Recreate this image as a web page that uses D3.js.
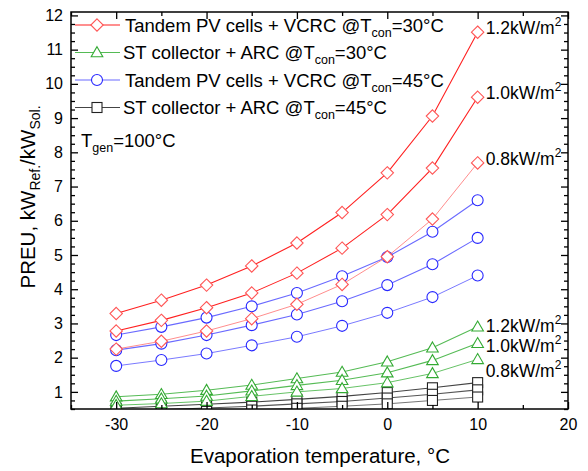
<!DOCTYPE html>
<html>
<head>
<meta charset="utf-8">
<script src="https://cdn.jsdelivr.net/npm/d3@7"></script>
<style>
  body { margin: 0; background: #fff; }
  text { font-family: "Liberation Sans", Arial, sans-serif; }
</style>
</head>
<body>
<div id="chart"></div>
<script>
// evaporation temperatures (x)
const evapTemps = [-30, -25, -20, -15, -10, -5, 0, 5, 10];
const irradiance = ["1.2", "1.0", "0.8"];

// Tandem PV cells + VCRC @ Tcon = 30 C  (1.2, 1.0, 0.8 kW/m2)
const pvVcrc30 = [
  [3.29, 3.68, 4.12, 4.68, 5.35, 6.24, 7.40, 9.06, 11.51],
  [2.78, 3.09, 3.46, 3.89, 4.47, 5.20, 6.18, 7.54, 9.61],
  [2.25, 2.48, 2.78, 3.14, 3.56, 4.14, 4.95, 6.05, 7.69]
];
// ST collector + ARC @ Tcon = 30 C
const stArc30 = [
  [0.86, 0.93, 1.05, 1.20, 1.39, 1.58, 1.88, 2.29, 2.90],
  [0.73, 0.80, 0.88, 1.03, 1.19, 1.34, 1.56, 1.92, 2.42],
  [0.61, 0.66, 0.73, 0.87, 1.00, 1.10, 1.27, 1.54, 1.95]
];
// Tandem PV cells + VCRC @ Tcon = 45 C
const pvVcrc45 = [
  [2.66, 2.90, 3.17, 3.50, 3.89, 4.38, 4.94, 5.68, 6.60],
  [2.22, 2.41, 2.66, 2.95, 3.26, 3.65, 4.12, 4.73, 5.50],
  [1.76, 1.93, 2.12, 2.36, 2.61, 2.93, 3.31, 3.77, 4.40]
];
// ST collector + ARC @ Tcon = 45 C
const stArc45 = [
  [0.52, 0.58, 0.64, 0.70, 0.78, 0.87, 0.98, 1.12, 1.27],
  [0.43, 0.48, 0.53, 0.58, 0.65, 0.72, 0.82, 0.93, 1.06],
  [0.35, 0.39, 0.43, 0.47, 0.52, 0.58, 0.65, 0.75, 0.85]
];

const xTicks = [-30, -20, -10, 0, 10, 20];
const yTicks = [1, 2, 3, 4, 5, 6, 7, 8, 9, 10, 11, 12];

const W = 588, H = 471;
const margin = { top: 12, right: 20, bottom: 62, left: 71 };
const innerW = W - margin.left - margin.right;
const innerH = H - margin.top - margin.bottom;

const svg = d3.select("#chart").append("svg")
  .attr("width", W).attr("height", H);

const g = svg.append("g")
  .attr("transform", `translate(${margin.left},${margin.top})`);

const x = d3.scaleLinear().domain([-35, 20]).range([0, innerW]);
const y = d3.scaleLinear().domain([0.5, 12.1]).range([innerH, 0]);

g.append("clipPath").attr("id", "clip")
  .append("rect").attr("width", innerW).attr("height", innerH);

// series styling: line colour, marker colour, marker shape
const groups = [
  { data: pvVcrc30, line: ["#ff2020", "#ff2020", "#ff8080"], mark: "#ff5555", shape: "diamond" },
  { data: stArc30, line: ["#55bb55", "#55bb55", "#55bb55"], mark: "#33aa33", shape: "triangle" },
  { data: pvVcrc45, line: ["#6a6aff", "#6a6aff", "#6a6aff"], mark: "#2828ff", shape: "circle" },
  { data: stArc45, line: ["#444", "#555", "#666"], mark: "#222", shape: "square" }
];

function marker(sel, shape, color) {
  if (shape === "circle") {
    sel.append("circle").attr("r", 5.5);
  } else if (shape === "diamond") {
    sel.append("path").attr("d", "M0,-6.2L6.2,0L0,6.2L-6.2,0Z");
  } else if (shape === "triangle") {
    sel.append("path").attr("d", "M0,-5.8L5.8,4.2L-5.8,4.2Z");
  } else {
    sel.append("rect").attr("x", -5).attr("y", -5).attr("width", 10).attr("height", 10);
  }
  sel.selectAll("circle,path,rect")
    .attr("fill", "#fff").attr("stroke", color).attr("stroke-width", 1.1);
}

const line = d3.line().x((d, i) => x(evapTemps[i])).y(d => y(d));
const plot = g.append("g").attr("clip-path", "url(#clip)");

// draw back to front: black, green, blue, red
[3, 1, 2, 0].forEach(k => {
  const grp = groups[k];
  grp.data.forEach((vals, j) => {
    plot.append("path")
      .datum(vals)
      .attr("fill", "none")
      .attr("stroke", grp.line[j])
      .attr("stroke-width", j === 2 ? 0.9 : 1.1)
      .attr("d", line);
  });
  grp.data.forEach(vals => {
    vals.forEach((v, i) => {
      const m = plot.append("g")
        .attr("transform", `translate(${x(evapTemps[i])},${y(v)})`);
      marker(m, grp.shape, grp.mark);
    });
  });
});

// frame
g.append("rect").attr("width", innerW).attr("height", innerH)
  .attr("fill", "none").attr("stroke", "#000").attr("stroke-width", 1.5);

// axes with inward ticks; hyphen as minus sign
const fmt = d => String(d);
const xMinor = d3.range(-35, 20, 5).filter(v => v % 10 !== 0);
g.append("g").attr("transform", `translate(0,${innerH})`)
  .call(d3.axisBottom(x).tickValues(xTicks).tickSize(-7).tickPadding(10).tickFormat(fmt));
g.append("g").attr("transform", `translate(0,${innerH})`)
  .call(d3.axisBottom(x).tickValues(xMinor).tickSize(-4).tickFormat(""));
g.append("g")
  .call(d3.axisTop(x).tickValues(xTicks).tickSize(-7).tickFormat(""));
g.append("g")
  .call(d3.axisTop(x).tickValues(xMinor).tickSize(-4).tickFormat(""));

const yMinor = d3.range(0.5, 12.1, 0.25).filter(v => Math.abs(v - Math.round(v)) > 0.01);
g.append("g")
  .call(d3.axisLeft(y).tickValues(yTicks).tickSize(-7).tickPadding(8).tickFormat(fmt));
g.append("g")
  .call(d3.axisLeft(y).tickValues(yMinor).tickSize(-4).tickFormat(""));
g.append("g").attr("transform", `translate(${innerW},0)`)
  .call(d3.axisRight(y).tickValues(yTicks).tickSize(-7).tickFormat(""));
g.append("g").attr("transform", `translate(${innerW},0)`)
  .call(d3.axisRight(y).tickValues(yMinor).tickSize(-4).tickFormat(""));

g.selectAll(".domain").remove();
g.selectAll(".tick line").attr("stroke", "#000").attr("stroke-width", 1.3);
g.selectAll(".tick text")
  .attr("font-family", "Liberation Sans, Arial, sans-serif")
  .attr("font-size", 16).attr("fill", "#000");

// axis titles
svg.append("text")
  .attr("x", 320).attr("y", 463)
  .attr("text-anchor", "middle").attr("font-size", 20.5)
  .text("Evaporation temperature, °C");

const yt = svg.append("text")
  .attr("transform", `translate(35,197) rotate(-90)`)
  .attr("text-anchor", "middle").attr("font-size", 20.5);
yt.append("tspan").text("PREU, kW");
yt.append("tspan").attr("font-size", 14).attr("dy", 5).text("Ref.");
yt.append("tspan").attr("dy", -5).text("/kW");
yt.append("tspan").attr("font-size", 14).attr("dy", 5).text("Sol.");

// legend
const legendNames = [
  ["Tandem PV cells + VCRC @T", "=30°C"],
  ["ST collector + ARC @T", "=30°C"],
  ["Tandem PV cells + VCRC @T", "=45°C"],
  ["ST collector + ARC @T", "=45°C"]
];
const legend = g.append("g");
legendNames.forEach((nm, k) => {
  const ly = 13 + k * 27.5;
  legend.append("line")
    .attr("x1", 4).attr("x2", 49).attr("y1", ly).attr("y2", ly)
    .attr("stroke", groups[k].line[0]).attr("stroke-width", 1.1);
  const m = legend.append("g").attr("transform", `translate(26,${ly})`);
  marker(m, groups[k].shape, groups[k].mark);
  const t = legend.append("text")
    .attr("x", k % 2 === 0 ? 54 : 52).attr("y", ly + 6.5)
    .attr("font-size", 18.5);
  t.append("tspan").text(nm[0]);
  t.append("tspan").attr("font-size", 12.5).attr("dy", 5).text("con");
  t.append("tspan").attr("dy", -5).text(nm[1]);
});

const tg = g.append("text").attr("x", 10).attr("y", 135).attr("font-size", 18.5);
tg.append("tspan").text("T");
tg.append("tspan").attr("font-size", 12.5).attr("dy", 5).text("gen");
tg.append("tspan").attr("dy", -5).text("=100°C");

// irradiance labels at right end
function irrLabel(txt, yPix) {
  const t = g.append("text").attr("x", x(10) + 8).attr("y", yPix + 6).attr("font-size", 17.5);
  t.append("tspan").text(txt + "kW/m");
  t.append("tspan").attr("font-size", 12).attr("dy", -8).text("2");
}
pvVcrc30.forEach((vals, j) => irrLabel(irradiance[j], y(vals[8]) - 4));
[y(stArc30[0][8]) - 1, y(stArc30[1][8]) + 3, y(stArc30[2][8]) + 12]
  .forEach((py, j) => irrLabel(irradiance[j], py));
</script>
</body>
</html>
